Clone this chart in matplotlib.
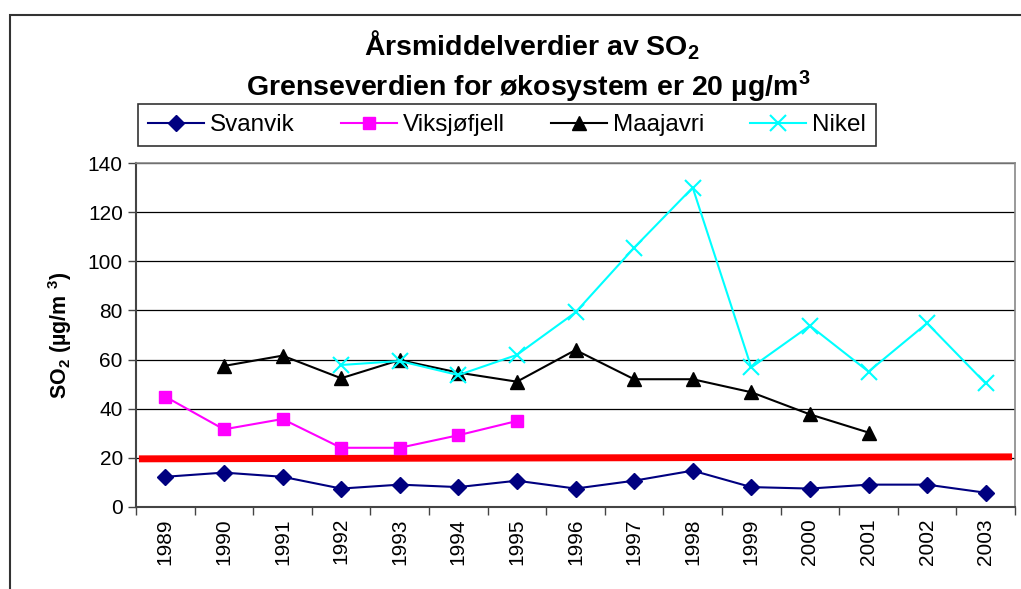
import numpy as np
import matplotlib
matplotlib.use('Agg')
import matplotlib.pyplot as plt
from matplotlib.patches import Rectangle

plt.rcParams['font.family'] = ['Liberation Sans', 'DejaVu Sans']
plt.rcParams['mathtext.fontset'] = 'custom'
plt.rcParams['mathtext.rm'] = 'Liberation Sans'
plt.rcParams['mathtext.bf'] = 'Liberation Sans:bold'

years = ['1989', '1990', '1991', '1992', '1993', '1994', '1995', '1996',
         '1997', '1998', '1999', '2000', '2001', '2002', '2003']
svanvik = [12.3, 14.0, 12.3, 7.5, 9.1, 8.1, 10.7, 7.5, 10.7, 14.8, 8.1, 7.5, 9.1, 9.1, 5.8]
viksjofjell = [44.9, 31.6, 35.8, 24.1, 24.1, 29.2, 35.0] + [np.nan] * 8
maajavri = [np.nan, 57.4, 61.6, 52.4, 59.8, 54.7, 51.0, 63.9, 52.0, 52.0, 46.7, 37.7, 30.3,
            np.nan, np.nan]
nikel = [np.nan, np.nan, np.nan, 57.8, 59.4, 53.7, 61.9, 79.2, 105.5, 130.0, 56.8, 73.8,
         55.1, 74.8, 50.3]
limit_ends = [19.6, 20.4]  # grenseverdi 20, line drawn slightly tilted in the original

x = np.arange(len(years))

fig = plt.figure(figsize=(10.21, 5.89), dpi=100)
ax = fig.add_axes([136 / 1021, 1 - 507 / 589, (1015 - 136) / 1021, (507 - 163) / 589])

# outer chart frame
fig.patches.append(Rectangle((10 / 1021, -0.1), 1.2, 1 - 15 / 589 + 0.1, transform=fig.transFigure,
                             fill=False, edgecolor='#333333', linewidth=1.5))

ax.plot([-0.45, len(years) - 0.55], limit_ends, color='#ff0000', linewidth=5, solid_capstyle='butt',
        zorder=2)
ax.plot(x, svanvik, color='#000080', marker='D', markersize=8, linewidth=1.5, label='Svanvik', zorder=3)
ax.plot(x, viksjofjell, color='#ff00ff', marker='s', markersize=9, linewidth=1.5, label='Viksjøfjell',
        zorder=3)
ax.plot(x, maajavri, color='black', marker='^', markersize=10, linewidth=1.5, label='Maajavri', zorder=3)
ax.plot(x, nikel, color='#00ffff', marker='x', markersize=11, markeredgewidth=1.5, linewidth=1.5,
        label='Nikel', zorder=4)

ax.set_xlim(-0.5, len(years) - 0.5)
ax.set_ylim(0, 140)
ax.set_yticks(range(0, 141, 20))
ax.set_xticks(x)
ax.set_xticklabels(years, rotation=90)
ax.set_xticks(np.arange(-0.5, len(years)), minor=True)
ax.tick_params(axis='x', which='major', length=0, labelsize=15, pad=8)
ax.tick_params(axis='x', which='minor', length=6, width=1, color='#444444')
ax.tick_params(axis='y', length=6, width=1, color='#444444', labelsize=15)
ax.grid(axis='y', color='black', linewidth=0.9)
ax.set_axisbelow(True)
for side in ['left', 'bottom']:
    ax.spines[side].set_color('#444444')
    ax.spines[side].set_linewidth(1.5)
for side in ['top', 'right']:
    ax.spines[side].set_color('#888888')
    ax.spines[side].set_linewidth(1.2)

ax.set_ylabel(r'SO$_\mathbf{2}$ (µg/m $^\mathbf{3}$)', fontsize=15.5, fontweight='bold', labelpad=10)

fig.text(532 / 1021, 1 - 45 / 589, r'Årsmiddelverdier av SO$_\mathbf{2}$', ha='center', va='center',
         fontsize=20.5, fontweight='bold')
fig.text(528 / 1021, 1 - 86 / 589, r'Grenseverdien for økosystem er 20 µg/m$^\mathbf{3}$',
         ha='center', va='center', fontsize=20.5, fontweight='bold')

leg = fig.legend(loc='center', bbox_to_anchor=(507 / 1021, 1 - 125 / 589), ncol=4, fontsize=17.5,
                 frameon=True, fancybox=False, edgecolor='black', handlelength=2.3, columnspacing=1.9,
                 handletextpad=0.25, borderpad=0.4, borderaxespad=0)
leg.get_frame().set_linewidth(1.2)

fig.savefig('out.png', dpi=100)
